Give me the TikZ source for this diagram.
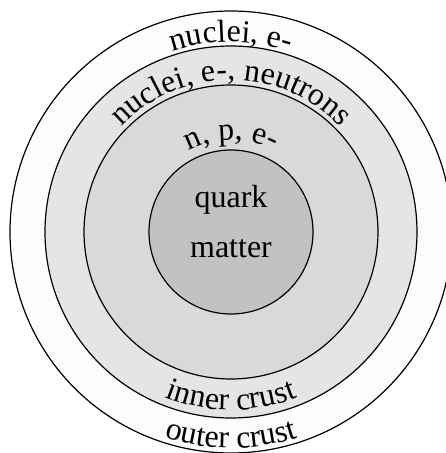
\documentclass[tikz,border=0pt]{standalone}
\usepackage{fontspec}
\setmainfont{Liberation Serif}
\usetikzlibrary{decorations.text}
\begin{document}
\begin{tikzpicture}[x=1pt,y=1pt,
  ring/.style={draw=black, line width=1.2pt},
  lbl/.style={decorate, decoration={text along path, text align=center,
     text format delimiters={|}{|}}},
]
\useasboundingbox (0,0) rectangle (446,453);
\begin{scope}
\clip (0,0) rectangle (446,453);
\coordinate (c) at (231,221);
\fill[black!1] (c) circle (221);
\draw[ring] (c) circle (221);
\fill[black!10] (c) circle (186);
\draw[ring] (c) circle (186);
\fill[black!15] (c) circle (147);
\draw[ring] (c) circle (147);
\fill[black!24] (c) circle (82);
\draw[ring] (c) circle (82);
\end{scope}
% curved labels
\path[lbl, decoration={text={|\fontsize{32}{36}\selectfont|nuclei, e-}}]
  ([shift={(140:190)}]c) arc[start angle=140, end angle=40, radius=190];
\path[lbl, decoration={text={|\fontsize{32}{36}\selectfont|nuclei, e-, neutrons}}]
  ([shift={(160:152)}]c) arc[start angle=160, end angle=20, radius=152];
\path[lbl, decoration={text={|\fontsize{32}{36}\selectfont|n, p, e-}}]
  ([shift={(150:92)}]c) arc[start angle=150, end angle=30, radius=92];
\path[lbl, decoration={text={|\fontsize{32}{36}\selectfont|inner crust}}]
  ([shift={(220:178)}]c) arc[start angle=220, end angle=320, radius=178];
\path[lbl, decoration={text={|\fontsize{32}{36}\selectfont|outer crust}}]
  ([shift={(225:216)}]c) arc[start angle=225, end angle=315, radius=216];
\node[font=\fontsize{32}{36}\selectfont, anchor=base, inner sep=0] (quark) at (231,245) {quark};
\node[font=\fontsize{32}{36}\selectfont, anchor=base, inner sep=0] (matter) at (231,195) {matter};
\end{tikzpicture}
\end{document}
